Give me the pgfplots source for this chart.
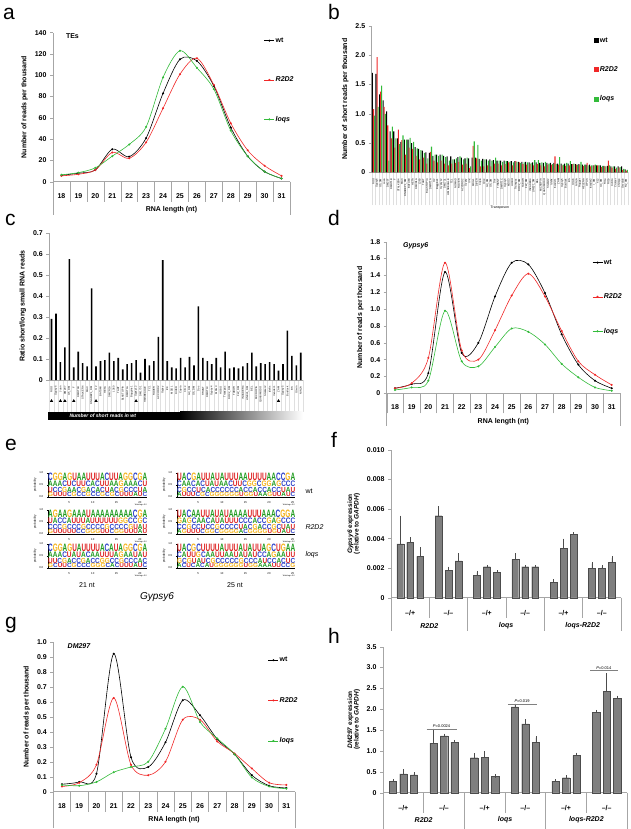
\documentclass[border=0pt]{standalone}
\usepackage{pgfplots}
\usepackage{pgfplotstable}
\pgfplotsset{compat=1.18}
\usepackage{fontspec}
\setmainfont{Liberation Sans}
\usepackage{graphicx}
\definecolor{cR}{HTML}{F02828}
\definecolor{cG}{HTML}{33BB3A}
\definecolor{lgA}{HTML}{1E9A1E}
\definecolor{lgC}{HTML}{2A3EC8}
\definecolor{lgG}{HTML}{F5B21A}
\definecolor{lgU}{HTML}{DD2222}
\definecolor{barg}{HTML}{7F7F7F}
\definecolor{axg}{HTML}{A6A6A6}
\newcommand\fs[1]{\fontsize{#1}{#1}\selectfont}
\makeatletter
\def\logorow#1{\logo@i#1\relax}
\def\logo@i#1{\ifx#1\relax\else\logo@c#1\expandafter\logo@i\fi}
\def\logo@c#1{\if#1A\textcolor{lgA}{A}\fi\if#1C\textcolor{lgC}{C}\fi\if#1G\textcolor{lgG}{G}\fi\if#1U\textcolor{lgU}{U}\fi}
\makeatother
\newcommand\logobox[5]{\vbox{\offinterlineskip\bfseries
 \hbox{\resizebox*{#1}{7.6pt}{\logorow{#2}}}\kern0.4pt
 \hbox{\resizebox*{#1}{5.7pt}{\logorow{#3}}}\kern0.4pt
 \hbox{\resizebox*{#1}{5.2pt}{\logorow{#4}}}\kern0.4pt
 \hbox{\resizebox*{#1}{4.3pt}{\logorow{#5}}}}}

\pgfplotsset{
 every axis/.append style={scale only axis, font=\fs{7}\bfseries, /pgf/number format/assume math mode=true},
 base/.style={axis x line*=bottom, axis y line*=left, axis line style={axg, line width=0.5pt},
   ytick style={axg, line width=0.4pt}, major x tick style={draw=none}, tick align=outside, major tick length=3pt,
   minor x tick style={axg, line width=0.4pt}, ticklabel style={font=\fs{7}\bfseries}, anchor=south west},
 lineaxis/.style={base, xmin=17.5, xmax=31.5, xtick={18,...,31}, minor xtick={17.5,18.5,...,31.5}, minor tick length=20pt,
   xticklabel shift=5pt, xlabel={RNA length (nt)}, xlabel style={at={(axis description cs:0.5,0)}, anchor=base, yshift=-30pt},
   ylabel={Number of reads per thousand}, clip=false, legend cell align=left,
   legend style={draw=none, fill=none, anchor=north west, inner sep=0pt, row sep=28pt, font=\fs{7}\bfseries, nodes={inner sep=1pt}},
   legend image code/.code={\draw[mark repeat=2,mark phase=2,##1] plot coordinates {(0pt,0pt) (5pt,0pt) (10pt,0pt)};}},
 sw/.style={black, line width=0.6pt, smooth, mark=*, mark size=0.7pt},
 sr/.style={cR, line width=0.6pt, smooth, mark=*, mark size=0.7pt},
 sg/.style={cG, line width=0.6pt, smooth, mark=*, mark size=0.7pt},
 logo/.style={scale only axis, anchor=south west, axis x line*=bottom, axis y line*=left, axis line style={black, line width=0.3pt},
   xmin=0.5, ymin=0, ymax=1, ytick={0,0.5,1}, yticklabels={0.0,0.5,1.0}, tick style={black, line width=0.3pt},
   major tick length=1.2pt, tick align=outside, ticklabel style={font=\fs{2.8}\mdseries}, ylabel={probability},
   ylabel style={font=\fs{3}\mdseries}, ylabel shift=-4pt, clip=false, height=24pt},
 bars/.style={base, xmin=0.5, xmax=6.5, xtick={1,...,6}, clip=false, scaled y ticks=false,
   xticklabels={\textendash/+,\textendash/\textendash,\textendash/+,\textendash/\textendash,\textendash/+,\textendash/\textendash},
   minor xtick={1.5,3.5,5.5}, minor tick length=20pt, xticklabel shift=6pt, ylabel style={align=center, font=\fs{6.5}\bfseries}},
 gbar/.style={ybar, bar width=0.18, bar shift=0, fill=barg, draw=barg!60!black, line width=0.3pt,
   error bars/.cd, y dir=plus, y explicit, error bar style={line width=0.5pt, black!70}, error mark options={mark size=1.6pt, line width=0.5pt, black!70}}
}

\pgfplotstableread{
i wt r2 lq
1 1.70 1.08 0.97
2 1.68 1.97 1.12
3 1.33 1.38 1.48
4 1.23 1.12 1.00
5 1.04 0.80 0.20
6 0.70 0.58 0.78
7 0.70 0.42 0.58
8 0.58 0.73 0.48
9 0.52 0.55 0.63
10 0.56 0.30 0.56
11 0.56 0.42 0.59
12 0.50 0.40 0.52
13 0.43 0.28 0.41
14 0.40 0.22 0.38
15 0.37 0.25 0.33
16 0.34 0.15 0.24
17 0.33 0.35 0.44
18 0.28 0.20 0.30
19 0.30 0.17 0.28
20 0.30 0.20 0.30
21 0.28 0.15 0.26
22 0.27 0.12 0.20
23 0.27 0.15 0.22
24 0.22 0.16 0.24
25 0.26 0.18 0.27
26 0.25 0.13 0.22
27 0.24 0.15 0.25
28 0.24 0.07 0.10
29 0.25 0.45 0.53
30 0.25 0.24 0.47
31 0.23 0.10 0.20
32 0.23 0.10 0.22
33 0.22 0.12 0.20
34 0.22 0.10 0.20
35 0.21 0.15 0.25
36 0.20 0.15 0.20
37 0.20 0.12 0.18
38 0.20 0.14 0.19
39 0.19 0.17 0.18
40 0.19 0.12 0.17
41 0.19 0.19 0.18
42 0.18 0.17 0.16
43 0.18 0.14 0.17
44 0.18 0.13 0.17
45 0.17 0.14 0.16
46 0.17 0.12 0.21
47 0.17 0.14 0.21
48 0.16 0.12 0.17
49 0.16 0.10 0.18
50 0.16 0.13 0.15
51 0.16 0.13 0.14
52 0.16 0.27 0.14
53 0.15 0.13 0.26
54 0.15 0.12 0.13
55 0.15 0.11 0.16
56 0.15 0.12 0.19
57 0.14 0.14 0.15
58 0.14 0.13 0.13
59 0.14 0.13 0.18
60 0.13 0.11 0.13
61 0.13 0.16 0.12
62 0.13 0.10 0.12
63 0.12 0.12 0.13
64 0.12 0.12 0.12
65 0.12 0.09 0.11
66 0.11 0.10 0.10
67 0.11 0.20 0.12
68 0.10 0.08 0.10
69 0.10 0.06 0.08
70 0.10 0.08 0.09
71 0.10 0.04 0.06
72 0.05 0.03 0.04
}\tabB

\pgfplotstableread{
i v
1 0.29
2 0.315
3 0.085
4 0.155
5 0.575
6 0.06
7 0.135
8 0.08
9 0.065
10 0.435
11 0.065
12 0.09
13 0.095
14 0.13
15 0.09
16 0.105
17 0.05
18 0.075
19 0.08
20 0.095
21 0.035
22 0.1
23 0.07
24 0.09
25 0.205
26 0.57
27 0.09
28 0.06
29 0.055
30 0.105
31 0.06
32 0.11
33 0.07
34 0.35
35 0.105
36 0.09
37 0.075
38 0.105
39 0.06
40 0.135
41 0.055
42 0.06
43 0.055
44 0.065
45 0.08
46 0.13
47 0.065
48 0.08
49 0.075
50 0.085
51 0.075
52 0.045
53 0.075
54 0.235
55 0.115
56 0.07
57 0.13
}\tabC

\pgfplotstableread{
x y e
0.74 0.00365 0.0018
1.00 0.00375 0.00025
1.26 0.0028 0.0005
1.74 0.00555 0.00055
2.00 0.00185 0.00015
2.26 0.0025 0.0004
2.74 0.00152 0.00018
3.00 0.0021 0.00002
3.26 0.0017 0.00005
3.74 0.0026 0.0003
4.00 0.0021 0
4.26 0.0021 0
4.74 0.00105 0.0001
5.00 0.00335 0.00055
5.26 0.0043 0.00003
5.74 0.0020 0.0003
6.00 0.0020 0.0001
6.26 0.0024 0.0003
}\tabF

\pgfplotstableread{
x y e
0.74 0.28 0.01
1.00 0.45 0.08
1.26 0.43 0.02
1.74 1.19 0.31
2.00 1.36 0.02
2.26 1.21 0.02
2.74 0.84 0.07
3.00 0.85 0.10
3.26 0.39 0.01
3.74 2.06 0.04
4.00 1.65 0.07
4.26 1.21 0.11
4.74 0.28 0.01
5.00 0.36 0.02
5.26 0.89 0.03
5.74 1.93 0.02
6.00 2.43 0.40
6.26 2.26 0.03
}\tabH

\begin{document}
\begin{tikzpicture}
\useasboundingbox (0,0) rectangle (631pt,-829pt);

% panel letters
\node[anchor=base west, font=\fs{21}, inner sep=0pt] at (3pt,-20pt) {a};
\node[anchor=base west, font=\fs{21}, inner sep=0pt] at (328pt,-20pt) {b};
\node[anchor=base west, font=\fs{21}, inner sep=0pt] at (5pt,-225pt) {c};
\node[anchor=base west, font=\fs{21}, inner sep=0pt] at (328pt,-225pt) {d};
\node[anchor=base west, font=\fs{21}, inner sep=0pt] at (5pt,-450pt) {e};
\node[anchor=base west, font=\fs{21}, inner sep=0pt] at (331pt,-447pt) {f};
\node[anchor=base west, font=\fs{21}, inner sep=0pt] at (5pt,-628pt) {g};
\node[anchor=base west, font=\fs{21}, inner sep=0pt] at (328pt,-643pt) {h};

% ---------------- a
\begin{axis}[lineaxis, at={(53pt,-181.7pt)}, width=237pt, height=149pt, ymin=0, ymax=140, ytick={0,20,...,140},
  legend style={at={(0.89,0.975)}, row sep=31pt}]
\addplot[sw] coordinates {(18,6) (19,8) (20,11) (21,30.5) (22,23.5) (23,41) (24,83) (25,115) (26,113.5) (27,90) (28,51) (29,24) (30,9.5) (31,3)};
\addlegendentry{wt}
\addplot[sr] coordinates {(18,5.5) (19,7) (20,11) (21,27.5) (22,22) (23,37) (24,69) (25,101) (26,116) (27,91) (28,55) (29,29.5) (30,15) (31,5.5)};
\addlegendentry{\textit{R2D2}}
\addplot[sg] coordinates {(18,6.5) (19,8.5) (20,13) (21,24) (22,35) (23,51.5) (24,98) (25,123) (26,107) (27,87) (28,48) (29,24) (30,9.5) (31,3)};
\addlegendentry{\textit{loqs}}
\node[anchor=west] at (rel axis cs:0.04,0.975) {TEs};
\draw[axg, line width=0.5pt] (rel axis cs:0,0) -- ++(0pt,-33pt) (rel axis cs:1,0) -- ++(0pt,-33pt);
\end{axis}

% ---------------- b
\begin{axis}[base, at={(371.7pt,-172.3pt)}, width=256.3pt, height=146.3pt, ymin=0, ymax=2.5, ytick={0,0.5,...,2.5},
  yticklabels={0,0.5,1.0,1.5,2.0,2.5}, xmin=0.5, xmax=72.5, xtick={1,...,72}, clip=false,
  xticklabels={ROO,Gypsy6,G5\_DM,Juan,DM297,DMRT1B,F,STALKER4,MAX,DNAREP1\_DM,BATUMI,HETA,DMCR1A,1360,TART,BLASTOPIA,DMRT1A,G2,Baggins1,Gypsy12,DM1731,HMSBEAGLE,TC1,NOMAD,ROVER,ACCORD2,Gypsy,IVK,MDG1,DIVER,Copia,Circe,G3\_DM,G6\_DM,Doc,TIRANT,DMRT1C,Gypsy4,MDG3,HOBO,Transpac,DOC2\_DM,TABOR,FW\_DM,INVADER4,LINEJ1\_DM,BEL,MICROPIA,QUASIMODO,Stalker2,Idefix,Invader1,ZAM,Gypsy5,Burdock,BS,Gtwin,NINJA,Frogger,HELENA,OPUS,Invader2,I\_DM,412,G4\_DM,Rt1a,Rt1b,Aurora,Cruiser,Chimpo,Osvaldo,R2\_DM},
  xticklabel style={rotate=90, anchor=east, font=\fs{2.6}\mdseries}, minor xtick={0.5,1.5,...,72.5}, minor tick length=33pt,
  minor x tick style={gray!25, line width=0.3pt},
  ylabel={Number of short reads per thousand}, xlabel={Transposon}, xlabel style={font=\fs{3.5}\mdseries, at={(axis description cs:0.5,0)}, anchor=base, yshift=-36pt},
  legend cell align=left, legend style={at={(0.865,0.93)}, anchor=north west, draw=none, fill=none, inner sep=0pt, row sep=21pt, font=\fs{7}\bfseries, nodes={inner sep=1pt}},
  legend image code/.code={\draw[#1,/tikz/.cd,draw=none] (0pt,-2.6pt) rectangle (5.2pt,2.6pt);}]
\addplot[ybar, fill=black, draw=none, bar width=0.3, bar shift=-0.3] table[x=i, y=wt]{\tabB};
\addlegendentry{wt}
\addplot[ybar, fill=cR, draw=none, bar width=0.3, bar shift=0] table[x=i, y=r2]{\tabB};
\addlegendentry{\textit{R2D2}}
\addplot[ybar, fill=cG, draw=none, bar width=0.3, bar shift=0.3] table[x=i, y=lq]{\tabB};
\addlegendentry{\textit{loqs}}
\end{axis}

% ---------------- c
\begin{axis}[base, at={(49.3pt,-380pt)}, width=253.7pt, height=147.3pt, ymin=0, ymax=0.7, ytick={0,0.1,...,0.7},
  yticklabels={0,0.1,0.2,0.3,0.4,0.5,0.6,0.7}, xmin=0.5, xmax=57.5, xtick={1,...,57}, clip=false,
  xticklabels={ROO,Gypsy6,Juan,DM297,G5\_DM,F,DMRT1B,STALKER4,MAX,DNAREP1\_DM,G2,BATUMI,HETA,DMCR1A,1360,TART,BLASTOPIA,DMRT1A,Baggins1,Gypsy12,DM1731,HMSBEAGLE,TC1,ROVER,ACCORD2,Gypsy,IVK,MDG1,DIVER,Copia,Circe,G3\_DM,G6\_DM,Doc,TIRANT,DMRT1C,Gypsy4,MDG3,HOBO,Transpac,DOC2\_DM,TABOR,FW\_DM,INVADER4,LINEJ1\_DM,BEL,MICROPIA,QUASIMODO,Stalker2,Idefix,Invader1,ZAM,Gypsy5,Burdock,BS,Gtwin,NINJA},
  xticklabel style={rotate=90, anchor=east, font=\fs{2.6}\mdseries}, minor xtick={0.5,1.5,...,57.5}, minor tick length=32pt,
  minor x tick style={gray!25, line width=0.3pt},
  ylabel={Ratio short/long small RNA reads}]
\addplot[ybar, fill=black, draw=none, bar width=0.36, bar shift=0] table[x=i, y=v]{\tabC};
\addplot[only marks, mark=triangle*, mark size=1.5pt, black] coordinates {(1,-0.1) (3,-0.1) (4,-0.1) (6,-0.1) (11,-0.1) (20,-0.1) (52,-0.1)};
\addplot[draw=none, fill=black] coordinates {(0.1,-0.152) (30,-0.152) (30,-0.19) (0.1,-0.19)} -- cycle;
\addplot[draw=none, left color=black, right color=white] coordinates {(29.9,-0.152) (57.5,-0.152) (57.5,-0.19) (29.9,-0.19)} -- cycle;
\node[text=white, font=\fs{5}\bfseries\itshape, anchor=west, inner sep=0pt] at (axis cs:5,-0.171) {Number of short reads in wt};
\end{axis}

% ---------------- d
\begin{axis}[lineaxis, at={(386.7pt,-393.3pt)}, width=233.3pt, height=151.6pt, ymin=0, ymax=1.8, ytick={0,0.2,...,1.8},
  yticklabels={0,0.2,0.4,0.6,0.8,1.0,1.2,1.4,1.6,1.8}, legend style={at={(0.88,0.89)}, row sep=26pt}]
\addplot[sw] coordinates {(18,0.06) (19,0.11) (20,0.24) (21,1.44) (22,0.48) (23,0.60) (24,1.15) (25,1.55) (26,1.53) (27,1.19) (28,0.70) (29,0.34) (30,0.15) (31,0.06)};
\addlegendentry{wt}
\addplot[sr] coordinates {(18,0.06) (19,0.12) (20,0.42) (21,1.55) (22,0.51) (23,0.40) (24,0.75) (25,1.16) (26,1.42) (27,1.15) (28,0.74) (29,0.38) (30,0.22) (31,0.10)};
\addlegendentry{\textit{R2D2}}
\addplot[sg] coordinates {(18,0.04) (19,0.07) (20,0.15) (21,0.98) (22,0.38) (23,0.32) (24,0.55) (25,0.77) (26,0.73) (27,0.58) (28,0.35) (29,0.19) (30,0.07) (31,0.03)};
\addlegendentry{\textit{loqs}}
\node[anchor=west, font=\fs{7}\bfseries\itshape] at (rel axis cs:0.055,0.975) {Gypsy6};
\draw[axg, line width=0.5pt] (rel axis cs:0,0) -- ++(0pt,-33pt) (rel axis cs:1,0) -- ++(0pt,-33pt);
\end{axis}

% ---------------- e (sequence logos)
\begin{axis}[logo, at={(48pt,-497pt)}, width=99pt, xmax=21.5, xtick={5,10,15,20}]
\addplot[draw=none] coordinates {(1,0) (21,0)};
\node[anchor=south west, inner sep=0pt] at (rel axis cs:0,0) {\logobox{99pt}{CGGAGUAAUUUACUUAGGCGA}{AAACUCUUCACUUAAGAAACU}{UCCGAACGACACUACGCCCUA}{GUUUCGCCGCCGCGCUUUAUC}};
\node[anchor=north east, font=\fs{2}\mdseries, inner sep=0pt] at (rel axis cs:1,0) [yshift=-6.5pt] {WebLogo 3.0};
\end{axis}
\begin{axis}[logo, at={(48pt,-534pt)}, width=99pt, xmax=21.5, xtick={5,10,15,20}]
\addplot[draw=none] coordinates {(1,0) (21,0)};
\node[anchor=south west, inner sep=0pt] at (rel axis cs:0,0) {\logobox{99pt}{AGAAGAAAUAAAAAAAAACGA}{UACCAUUUAUUUUUUGGCCGC}{CCCGCCCGCCCCGCCCCGUAU}{GUUUUUCCGGGUUCGGUUUAU}};
\node[anchor=north east, font=\fs{2}\mdseries, inner sep=0pt] at (rel axis cs:1,0) [yshift=-6.5pt] {WebLogo 3.0};
\end{axis}
\begin{axis}[logo, at={(48pt,-568pt)}, width=99pt, xmax=21.5, xtick={5,10,15,20}]
\addplot[draw=none] coordinates {(1,0) (21,0)};
\node[anchor=south west, inner sep=0pt] at (rel axis cs:0,0) {\logobox{99pt}{CGGAGUAUUUUACAUAGGCGA}{AAACUAUACAAUUUAGAAUAU}{UUCGACCGACCGGCCGCCCAC}{GCUUCGCCCGGGCACUUUAUC}};
\node[anchor=north east, font=\fs{2}\mdseries, inner sep=0pt] at (rel axis cs:1,0) [yshift=-6.5pt] {WebLogo 3.0};
\end{axis}
\begin{axis}[logo, at={(177pt,-497pt)}, width=118pt, xmax=25.5, xtick={5,10,...,25}]
\addplot[draw=none] coordinates {(1,0) (25,0)};
\node[anchor=south west, inner sep=0pt] at (rel axis cs:0,0) {\logobox{118pt}{UACGAUUAUAUUUAAUUUUAACCGA}{CAACACUAUAACUUCGGCGGAGCCC}{CGCCUCACCCCCCACCACCACCUAU}{AUUUCGCGGGGGGUGGUAAGUUAUC}};
\node[anchor=north east, font=\fs{2}\mdseries, inner sep=0pt] at (rel axis cs:1,0) [yshift=-6.5pt] {WebLogo 3.0};
\end{axis}
\begin{axis}[logo, at={(177pt,-534pt)}, width=118pt, xmax=25.5, xtick={5,10,...,25}]
\addplot[draw=none] coordinates {(1,0) (25,0)};
\node[anchor=south west, inner sep=0pt] at (rel axis cs:0,0) {\logobox{118pt}{UACAAUUAUAUAAAAUUUAAACGGA}{GAGCAACAUAUUUCCCACCGAGCCC}{CCGCCUCCGCCCCUACGACCGCUAU}{AGUUUCGGCGGGGACGGGGUGUAUC}};
\node[anchor=north east, font=\fs{2}\mdseries, inner sep=0pt] at (rel axis cs:1,0) [yshift=-6.5pt] {WebLogo 3.0};
\end{axis}
\begin{axis}[logo, at={(177pt,-568pt)}, width=118pt, xmax=25.5, xtick={5,10,...,25}]
\addplot[draw=none] coordinates {(1,0) (25,0)};
\node[anchor=south west, inner sep=0pt] at (rel axis cs:0,0) {\logobox{118pt}{UACGCUUUUAUUUAUAUUAGCUGAA}{CAUUGCAAUUAAUAUAUCCAGAAUU}{GCGUAUCGCCCCCGCCCAUCCACUC}{ACUCACAUGGGGGGUGGAAAUUCCG}};
\node[anchor=north east, font=\fs{2}\mdseries, inner sep=0pt] at (rel axis cs:1,0) [yshift=-6.5pt] {WebLogo 3.0};
\end{axis}
\node[anchor=west, font=\fs{7}] at (302pt,-491pt) {wt};
\node[anchor=west, font=\fs{7}\itshape] at (302pt,-527pt) {R2D2};
\node[anchor=west, font=\fs{7}\itshape] at (302pt,-555pt) {loqs};
\node[font=\fs{7}] at (87pt,-585pt) {21 nt};
\node[font=\fs{7}] at (235pt,-585pt) {25 nt};
\node[font=\fs{10}\itshape] at (157pt,-597pt) {Gypsy6};

% ---------------- f
\begin{axis}[bars, at={(391pt,-597.7pt)}, width=230pt, height=147.7pt, ymin=0, ymax=0.010, ytick={0,0.002,...,0.010},
  yticklabels={0,0.002,0.004,0.006,0.008,0.010}, ylabel={\textit{Gypsy6} expression\\(relative to \textit{GAPDH})}]
\addplot[gbar] table[x=x, y=y, y error=e]{\tabF};
\draw[axg, line width=0.5pt] (axis cs:0.5,0) -- ++(0pt,-33pt) (axis cs:2.5,0) -- ++(0pt,-33pt) (axis cs:4.5,0) -- ++(0pt,-33pt) (axis cs:6.5,0) -- ++(0pt,-33pt);
\node[font=\fs{7}\bfseries\itshape] at (axis cs:1.5,0) [yshift=-28pt] {R2D2};
\node[font=\fs{7}\bfseries\itshape] at (axis cs:3.5,0) [yshift=-28pt] {loqs};
\node[font=\fs{7}\bfseries\itshape] at (axis cs:5.5,0) [yshift=-28pt] {loqs-R2D2};
\end{axis}

% ---------------- g
\begin{axis}[lineaxis, at={(53.3pt,-791.7pt)}, width=241.7pt, height=150pt, ymin=0, ymax=1.0, ytick={0,0.1,...,1.0},
  yticklabels={0,0.1,0.2,0.3,0.4,0.5,0.6,0.7,0.8,0.9,1.0}, legend style={at={(0.888,0.905)}, row sep=32pt}]
\addplot[sw] coordinates {(18,0.05) (19,0.065) (20,0.12) (21,0.92) (22,0.23) (23,0.165) (24,0.33) (25,0.61) (26,0.51) (27,0.35) (28,0.25) (29,0.11) (30,0.04) (31,0.025)};
\addlegendentry{wt}
\addplot[sr] coordinates {(18,0.035) (19,0.06) (20,0.18) (21,0.625) (22,0.18) (23,0.11) (24,0.2) (25,0.48) (26,0.48) (27,0.335) (28,0.255) (29,0.155) (30,0.06) (31,0.045)};
\addlegendentry{\textit{R2D2}}
\addplot[sg] coordinates {(18,0.045) (19,0.04) (20,0.065) (21,0.13) (22,0.165) (23,0.2) (24,0.42) (25,0.7) (26,0.465) (27,0.355) (28,0.25) (29,0.095) (30,0.035) (31,0.02)};
\addlegendentry{\textit{loqs}}
\node[anchor=west, font=\fs{7}\bfseries\itshape] at (rel axis cs:0.045,0.972) {DM297};
\draw[axg, line width=0.5pt] (rel axis cs:0,0) -- ++(0pt,-36pt) (rel axis cs:1,0) -- ++(0pt,-36pt);
\end{axis}

% ---------------- h
\begin{axis}[bars, at={(383pt,-792.7pt)}, width=244pt, height=146pt, ymin=0, ymax=3.5, ytick={0,0.5,...,3.5},
  yticklabels={0,0.5,1.0,1.5,2.0,2.5,3.0,3.5}, ylabel={\textit{DM297} expression\\(relative to \textit{GAPDH})}]
\addplot[gbar] table[x=x, y=y, y error=e]{\tabH};
\addplot[gray, line width=0.6pt] coordinates {(1.57,1.53) (2.31,1.53)};
\addplot[gray, line width=0.6pt] coordinates {(3.57,2.13) (4.28,2.13)};
\addplot[gray, line width=0.6pt] coordinates {(5.59,2.93) (6.28,2.93)};
\node[anchor=south, font=\fs{4}\mdseries, inner sep=1pt] at (axis cs:1.94,1.53) {\textit{P}=0.0024};
\node[anchor=south, font=\fs{4}\mdseries, inner sep=1pt] at (axis cs:3.92,2.13) {\textit{P}=0.019};
\node[anchor=south, font=\fs{4}\mdseries, inner sep=1pt] at (axis cs:5.93,2.93) {\textit{P}=0.014};
\draw[axg, line width=0.5pt] (axis cs:0.5,0) -- ++(0pt,-36pt) (axis cs:2.5,0) -- ++(0pt,-36pt) (axis cs:4.5,0) -- ++(0pt,-36pt) (axis cs:6.5,0) -- ++(0pt,-36pt);
\node[font=\fs{7}\bfseries\itshape] at (axis cs:1.5,0) [yshift=-27pt] {R2D2};
\node[font=\fs{7}\bfseries\itshape] at (axis cs:3.5,0) [yshift=-27pt] {loqs};
\node[font=\fs{7}\bfseries\itshape] at (axis cs:5.5,0) [yshift=-27pt] {loqs-R2D2};
\end{axis}
\end{tikzpicture}
\end{document}
